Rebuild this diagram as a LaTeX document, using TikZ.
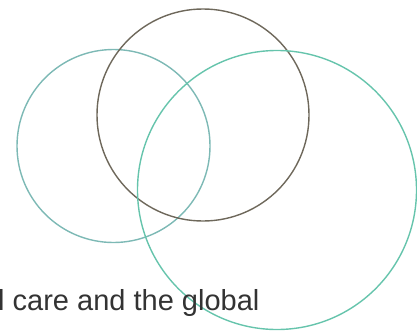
\documentclass[tikz,border=0pt]{standalone}
\usepackage{fontspec}
\setmainfont{Liberation Sans}
\usepackage{xcolor}
\definecolor{ringteal}{HTML}{7DB9B5}
\definecolor{ringbrown}{HTML}{6E685B}
\definecolor{ringgreen}{HTML}{66C4AC}
\definecolor{darktext}{HTML}{333333}

\begin{document}
\begin{tikzpicture}[x=1pt, y=-1pt,
  ring/.style={line width=1.4pt},
  caption/.style={anchor=base west, inner sep=0pt, text=darktext,
                  font=\fontsize{29}{29}\selectfont},
]
  \useasboundingbox (0,0) rectangle (417,332);
  \draw[ring, ringteal] (113.5,146) circle (96.5);
  \draw[ring, ringbrown] (203,115) circle (106);
  \draw[ring, ringgreen] (277,190) circle (139.5);
  \node[caption] (words) at (-2,310) {l care and the global};
\end{tikzpicture}
\end{document}
